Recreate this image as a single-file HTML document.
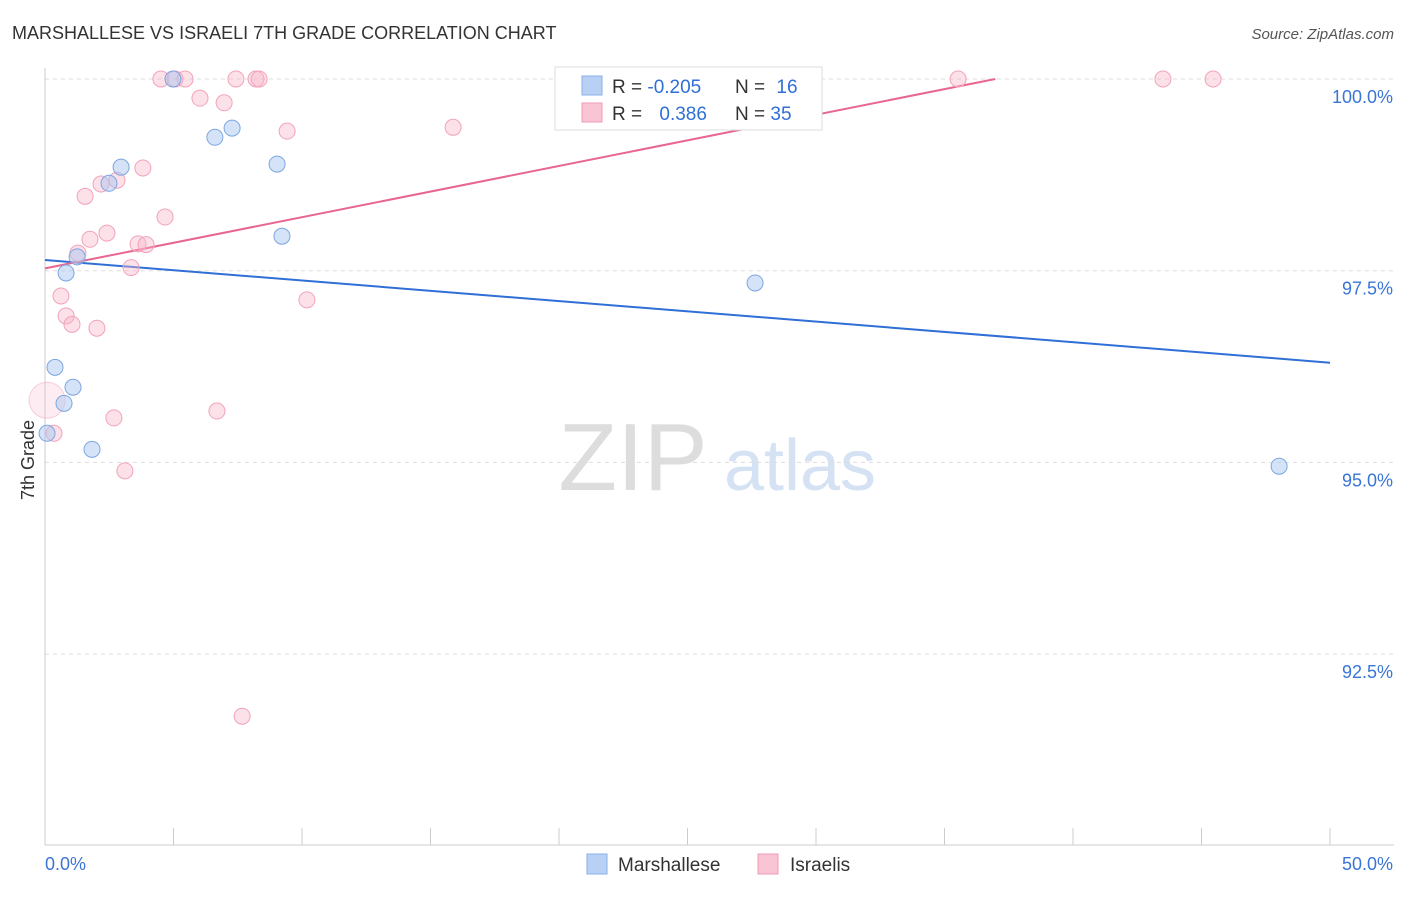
<!DOCTYPE html>
<html><head><meta charset="utf-8"><style>
body{margin:0;background:#fff;font-family:"Liberation Sans",sans-serif}
svg text{font-family:"Liberation Sans",sans-serif}
</style></head><body>
<svg id="c" width="1406" height="892">
<text x="12" y="39" font-size="18" fill="#333">MARSHALLESE VS ISRAELI 7TH GRADE CORRELATION CHART</text>
<text x="1394" y="39" font-size="15" fill="#555" font-style="italic" text-anchor="end">Source: ZipAtlas.com</text>
<g><text x="633" y="490" font-size="96" fill="#ddd" font-family="Liberation Serif" text-anchor="middle">ZIP</text><text x="800" y="490" font-size="72" fill="#d4e2f4" text-anchor="middle">atlas</text></g>
<g id="grid"></g><g id="axes"></g><g id="trend"></g><g id="pts"></g>
<text transform="translate(34,460) rotate(-90)" font-size="18" fill="#333" text-anchor="middle">7th Grade</text>
<g>
<rect x="555" y="67" width="267" height="63" fill="#fff" stroke="#ddd"/>
<rect x="582" y="76" width="20" height="19" fill="#b7d0f4" stroke="#8ab0e8"/>
<rect x="582" y="103" width="20" height="19" fill="#f9c5d5" stroke="#f09ab5"/>
<text x="612" y="93" font-size="19" fill="#333">R = <tspan fill="#2f6fd6">-0.205</tspan></text>
<text x="735" y="93" font-size="19" fill="#333">N = <tspan fill="#2f6fd6" dx="6">16</tspan></text>
<text x="612" y="120" font-size="19" fill="#333">R = <tspan fill="#2f6fd6" dx="12">0.386</tspan></text>
<text x="735" y="120" font-size="19" fill="#333">N = <tspan fill="#2f6fd6">35</tspan></text>
</g>
<g>
<rect x="587" y="854" width="20" height="20" fill="#b7d0f4" stroke="#8ab0e8"/>
<text x="618" y="871" font-size="19" fill="#333">Marshallese</text>
<rect x="758" y="854" width="20" height="20" fill="#f9c5d5" stroke="#f09ab5"/>
<text x="790" y="871" font-size="19" fill="#333">Israelis</text>
</g>
</svg>
<script>
const blueX=[4.98,6.61,7.28,9.03,2.96,2.49,9.22,1.25,0.82,27.63,0.39,1.09,0.74,0.08,1.83,48.02];
const blueY=[100,99.24,99.36,98.89,98.85,98.64,97.95,97.68,97.47,97.34,96.24,95.98,95.77,95.38,95.17,94.95];
const pinkX=[4.51,5.06,5.45,7.43,8.21,8.33,35.53,43.5,45.45,6.03,6.97,9.42,15.88,3.81,1.56,2.18,2.80,4.67,1.75,2.41,1.28,3.62,3.93,3.35,0.62,0.82,1.05,2.02,10.19,6.69,2.68,0.35,3.11,7.67,0.08];
const pinkY=[100,100,100,100,100,100,100,100,100,99.75,99.69,99.32,99.37,98.84,98.47,98.63,98.68,98.2,97.91,97.99,97.73,97.85,97.84,97.54,97.17,96.91,96.8,96.75,97.12,95.67,95.58,95.38,94.89,91.69,95.81];
const blueTrend=[97.64,96.30];
const pinkTrend=[97.53,0.0668];
const yTicks=[100,97.5,95,92.5];
const yTickLabels=["100.0%","97.5%","95.0%","92.5%"];
const xEndLabels=["0.0%","50.0%"];
const X=v=>45+v*1285/50, Y=v=>79+(100-v)*76.68;
const ns="http://www.w3.org/2000/svg";
function mk(p,t,a){const e=document.createElementNS(ns,t);for(const k in a)e.setAttribute(k,a[k]);document.getElementById(p).appendChild(e);return e;}
yTicks.forEach((t,i)=>{
 const l=mk('grid','line',{x1:45,x2:1394,y1:Y(t),y2:Y(t),stroke:'#ddd','stroke-dasharray':'4,4'});
 
 
 const tx=mk('grid','text',{x:1393,y:Y(t)+24,'font-size':18,fill:'#3a75d6','text-anchor':'end'});tx.textContent=yTickLabels[i];
 
 
});
const ax=mk('axes','line',{x1:45,x2:45,y1:68,y2:845,stroke:'#ccc'});


const bx=mk('axes','line',{x1:45,x2:1394,y1:845,y2:845,stroke:'#ccc'});


for(let i=0;i<=10;i++){const t=mk('axes','line',{x1:X(i*5),x2:X(i*5),y1:828,y2:845,stroke:'#ccc'});
 
 }
[[0,'start'],[50,'end']].forEach(([v,a],i)=>{const t=mk('axes','text',{x:i?1393:45,y:870,'font-size':18,fill:'#3a75d6','text-anchor':a});t.textContent=xEndLabels[i];
 
 });
const bl=mk('trend','line',{x1:X(0),y1:Y(blueTrend[0]),x2:X(50),y2:Y(blueTrend[1]),stroke:'#2f6fd6','stroke-width':2});


const xe=(100-pinkTrend[0])/pinkTrend[1];
const pl=mk('trend','line',{x1:X(0),y1:Y(pinkTrend[0]),x2:X(xe),y2:Y(100),stroke:'#e8668f','stroke-width':2});


pinkX.forEach((x,i)=>{const big=i==34;const c=mk('pts','circle',{cx:X(x),cy:Y(pinkY[i]),r:big?18:8,fill:big?'rgba(248,180,200,0.25)':'rgba(248,180,200,0.4)',stroke:big?'rgba(242,163,187,0.5)':'#f2a3bb'});
 
 });
blueX.forEach((x,i)=>{const c=mk('pts','circle',{cx:X(x),cy:Y(blueY[i]),r:8,fill:'rgba(170,200,240,0.5)',stroke:'#7da6e0'});
 
 });
</script>
</body></html>
